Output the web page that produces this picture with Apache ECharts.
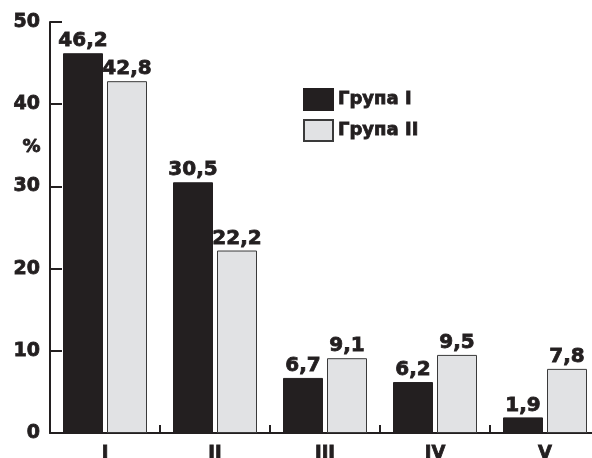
<!DOCTYPE html>
<html>
<head>
<meta charset="utf-8">
<script src="https://cdn.jsdelivr.net/npm/echarts@6/dist/echarts.min.js"></script>
<style>
  html, body { margin: 0; padding: 0; background: #fff; overflow: hidden; }
  /* the plot runs a little past the right edge of the window */
  #chart { width: 600px; height: 458px; }
</style>
</head>
<body>
<div id="chart"></div>
<script>
// Categories along the x axis
const categories = ['I', 'II', 'III', 'IV', 'V'];
// Percentages for each group
const groupI = [46.2, 30.5, 6.7, 6.2, 1.9];
const groupII = [42.8, 22.2, 9.1, 9.5, 7.8];
const seriesNames = ['Група I', 'Група II'];
// Y axis range and step
const yMin = 0, yMax = 50, yStep = 10;

const FONT = 'DejaVu Sans';
const INK = '#231f20';
const comma = v => String(v).replace('.', ',');

// heavy text: bold face plus a thin outline in the same ink
const heavy = (size) => ({
  fontFamily: FONT,
  fontWeight: 'bold',
  fontSize: size,
  color: INK,
  textBorderColor: INK,
  textBorderWidth: 0.8
});

const chart = echarts.init(document.getElementById('chart'), null, { renderer: 'canvas' });

const labelStyle = Object.assign({
  show: true,
  position: 'top',
  distance: 2,
  formatter: p => comma(p.value)
}, heavy(20));

chart.setOption({
  animation: false,
  backgroundColor: '#ffffff',
  grid: { left: 50, top: 22, right: 0, bottom: 25, containLabel: false, outerBoundsMode: 'none' },
  legend: {
    orient: 'vertical',
    left: 303,
    top: 88,
    padding: 0,
    icon: 'rect',
    itemWidth: 29,
    itemHeight: 21,
    itemGap: 8,
    data: seriesNames,
    textStyle: heavy(18)
  },
  xAxis: {
    type: 'category',
    data: categories,
    boundaryGap: true,
    axisLine: { lineStyle: { color: INK, width: 2 } },
    axisTick: { show: true, inside: true, length: 8, lineStyle: { color: INK, width: 2 } },
    axisLabel: Object.assign({ margin: 11 }, heavy(18))
  },
  yAxis: {
    type: 'value',
    min: yMin,
    max: yMax,
    interval: yStep,
    splitLine: { show: false },
    axisLine: { show: true, lineStyle: { color: INK, width: 2 } },
    axisTick: { show: true, inside: true, length: 12, lineStyle: { color: INK, width: 2 } },
    axisLabel: Object.assign({ margin: 10 }, heavy(19))
  },
  graphic: [{
    type: 'text',
    left: 22,
    top: 138,
    style: { text: '%', font: 'bold 18px "DejaVu Sans"', fill: INK, stroke: INK, lineWidth: 0.8 }
  }],
  series: [
    {
      name: seriesNames[0],
      type: 'bar',
      data: groupI,
      barWidth: 40,
      barGap: '10%',
      itemStyle: { color: INK, borderColor: INK, borderWidth: 1 },
      label: labelStyle
    },
    {
      name: seriesNames[1],
      type: 'bar',
      data: groupII,
      barWidth: 40,
      itemStyle: { color: '#e1e2e4', borderColor: '#3a3a3a', borderWidth: 1 },
      label: labelStyle
    }
  ]
});
</script>
</body>
</html>
